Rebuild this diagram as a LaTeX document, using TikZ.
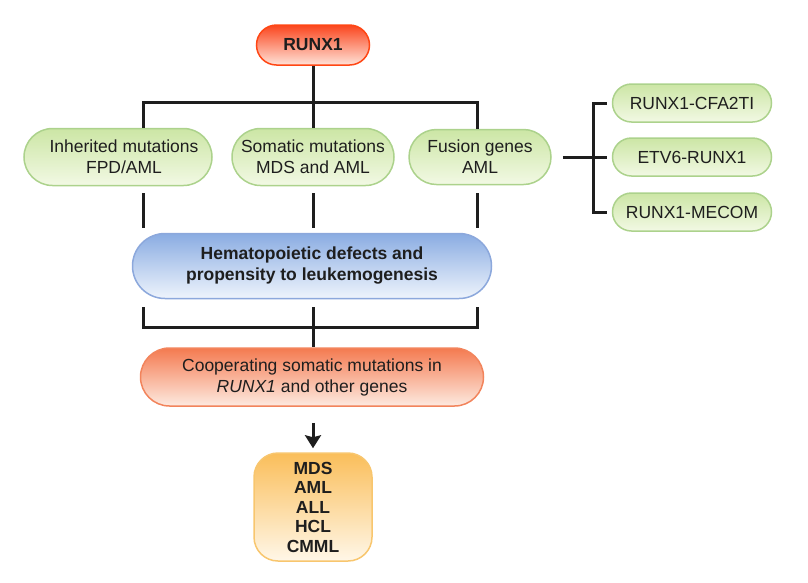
\documentclass[tikz,border=0pt]{standalone}
\usepackage{fontspec}
\setmainfont{Liberation Sans}
\usetikzlibrary{shapes.misc,arrows.meta}

\definecolor{redtop}{RGB}{250,70,30}
\definecolor{redbot}{RGB}{255,226,216}
\definecolor{redline}{RGB}{255,70,20}
\definecolor{greentop}{RGB}{204,230,165}
\definecolor{greenbot}{RGB}{242,249,228}
\definecolor{greenline}{RGB}{172,210,140}
\definecolor{bluetop}{RGB}{138,172,226}
\definecolor{bluebot}{RGB}{238,244,252}
\definecolor{blueline}{RGB}{140,168,220}
\definecolor{orangetop}{RGB}{244,122,80}
\definecolor{orangebot}{RGB}{253,234,224}
\definecolor{orangeline}{RGB}{242,132,92}
\definecolor{yellowtop}{RGB}{250,190,90}
\definecolor{yellowbot}{RGB}{255,247,232}
\definecolor{yellowline}{RGB}{248,198,110}
\definecolor{ink}{RGB}{30,30,30}

\tikzset{
	pill/.style={rounded rectangle, line width=1.5pt, align=center, inner sep=0pt,
		font=\fontsize{17.5}{21}\selectfont, text=ink},
	greenpill/.style={pill, draw=greenline, top color=greentop, bottom color=greenbot},
	conn/.style={line width=3pt, draw=ink},
}

\begin{document}
\begin{tikzpicture}[x=1pt,y=-1pt]
				\useasboundingbox (0,0) rectangle (808,582);
				
				% top
				\node[pill, draw=redline, top color=redtop, bottom color=redbot, minimum width=113, minimum height=40, font=\fontsize{17.5}{21}\selectfont\bfseries] (runx) at (313,45) {RUNX1};
				
				% mutation classes
				\node[greenpill, minimum width=188, minimum height=57] (inh) at (118,157) {\hspace*{12pt}Inherited mutations\\\hspace*{12pt}FPD/AML};
				\node[greenpill, minimum width=162, minimum height=57] (som) at (313,157) {Somatic mutations\\MDS and AML};
				\node[greenpill, minimum width=142, minimum height=55] (fus) at (480,157) {Fusion genes\\AML};
				
				% fusion partners
				\node[greenpill, minimum width=159, minimum height=38] (cfa) at (692,103) {RUNX1-CFA2TI};
				\node[greenpill, minimum width=159, minimum height=38] (etv) at (692,157) {ETV6-RUNX1};
				\node[greenpill, minimum width=159, minimum height=38] (mec) at (692,212) {RUNX1-MECOM};
				
				\node[pill, draw=blueline, top color=bluetop, bottom color=bluebot, minimum width=359, minimum height=65, font=\fontsize{17.5}{21}\selectfont\bfseries] (defect) at (312,266) {Hematopoietic defects and\\propensity to leukemogenesis};
				
				\node[pill, draw=orangeline, top color=orangetop, bottom color=orangebot, minimum width=343, minimum height=58] (coop) at (312,377) {Cooperating somatic mutations in\\\textit{RUNX1} and other genes};
				
				\node[draw=yellowline, line width=1.5pt, rounded corners=24pt, top color=yellowtop, bottom color=yellowbot, minimum width=118, minimum height=108, align=center, text=ink, font=\fontsize{17.5}{19.5}\selectfont\bfseries] (dis) at (313,507) {MDS\\AML\\ALL\\HCL\\CMML};
				
				% brackets
				\coordinate (topbar) at (313,102);
				\coordinate (lbar) at (143,0);
				\coordinate (rbar) at (477,0);
				\draw[conn] (runx.south) -- (topbar);
				\draw[conn] (lbar |- inh.north) |- (topbar) -| (rbar |- fus.north);
				\draw[conn] (topbar) -- (som.north);
				
				\draw[conn, shorten <=7pt, shorten >=5pt] (lbar |- inh.south) -- (lbar |- defect.north);
				\draw[conn, shorten <=7pt, shorten >=5pt] (som.south) -- (som.south |- defect.north);
				\draw[conn, shorten <=8pt, shorten >=5pt] (rbar |- fus.south) -- (rbar |- defect.north);
				
				\coordinate (lowbar) at (313,327);
				\draw[conn] ([yshift=-8pt]lbar |- defect.south) |- (lowbar) -| ([yshift=-8pt]rbar |- defect.south);
				\draw[conn] ([yshift=-8pt]defect.south -| lowbar) -- (coop.north -| lowbar);
				
				\draw[conn, -{Stealth[length=13pt,width=16pt,inset=2pt]}, shorten <=16pt, shorten >=4pt] (coop.south -| dis.north) -- (dis.north);
				
				% fusion partners bracket
				\coordinate (fork) at (593,157);
				\draw[conn] ([xshift=11pt]fus.east) -- (fork);
				\draw[conn] ([xshift=-5pt]cfa.west) -- (cfa.west -| fork) -- (mec.west -| fork) -- ([xshift=-5pt]mec.west);
				\draw[conn] (fork) -- ([xshift=-5pt]etv.west);
\end{tikzpicture}
\end{document}
